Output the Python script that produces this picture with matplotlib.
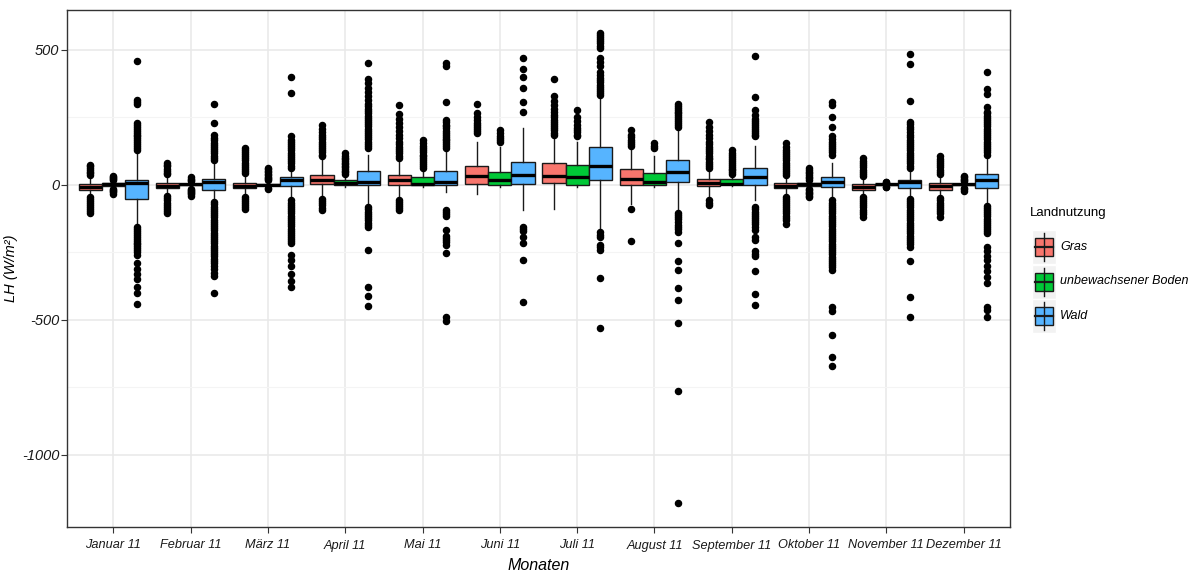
import numpy as np
import matplotlib.pyplot as plt
from matplotlib.patches import Rectangle

plt.rcParams['font.family'] = ['Liberation Sans', 'DejaVu Sans']

months = ['Januar 11', 'Februar 11', 'März 11', 'April 11', 'Mai 11', 'Juni 11',
          'Juli 11', 'August 11', 'September 11', 'Oktober 11', 'November 11', 'Dezember 11']
groups = ['Gras', 'unbewachsener Boden', 'Wald']
colors = ['#F8766D', '#00C837', '#56B4FF']

# box statistics per land use (W/m²)
gras_q1 = [-18, -12, -12, 2, 0, 2, 5, 0, -6, -12, -18, -18]
gras_med = [-8, -3, -4, 17, 17, 32, 32, 21, 5, -4, -8, -4]
gras_q3 = [2, 6, 6, 35, 35, 69, 81, 57, 21, 6, 1, 6]
gras_lo = [-40, -36, -38, -45, -50, -36, -89, -70, -46, -38, -40, -45]
gras_hi = [30, 33, 35, 95, 95, 160, 179, 130, 55, 30, 28, 35]
gras_out = [
    [35, 42, 48, 55, 62, 68, 75, -45, -52, -60, -68, -75, -82, -90, -97, -105],
    [38, 45, 52, 60, 68, 75, 82, -42, -50, -58, -66, -74, -82, -90, -98, -105],
    [42, 50, 58, 66, 74, 82, 90, 98, 106, 114, 122, 130, 136, -45, -52, -60, -68, -75, -82, -89],
    [105, 112, 120, 128, 136, 144, 152, 160, 168, 176, 185, 195, 208, 221, -52, -60, -68, -76, -85, -95],
    [100, 108, 116, 124, 132, 140, 150, 160, 172, 185, 198, 212, 228, 245, 262, 294,
     -55, -62, -70, -78, -86, -95],
    [191, 198, 206, 214, 222, 230, 240, 250, 264, 300],
    [185, 193, 201, 209, 217, 225, 233, 241, 250, 260, 270, 282, 295, 310, 330, 392],
    [142, 150, 158, 166, 175, 185, 203, -90, -210],
    [62, 70, 78, 86, 94, 100, 108, 116, 124, 132, 140, 150, 160, 172, 185, 200, 215, 233, -58, -66, -75],
    [35, 42, 50, 58, 66, 74, 82, 90, 98, 106, 114, 122, 130, 140, 154,
     -45, -52, -60, -66, -74, -82, -90, -98, -106, -114, -122, -130, -144],
    [33, 40, 48, 56, 64, 72, 80, 88, 100, -45, -52, -60, -68, -76, -84, -92, -100, -110, -119],
    [40, 48, 56, 64, 72, 80, 88, 96, 106, -50, -58, -66, -74, -82, -90, -98, -106, -119],
]

boden_q1 = [-3, -2, -2, 0, 0, -1, -1, -1, 2, -3, -2, -2]
boden_med = [1, 1, 0, 6, 4, 18, 27, 11, 4, 1, 1, 1]
boden_q3 = [5, 4, 4, 18, 29, 49, 73, 45, 21, 5, 4, 4]
boden_lo = [-12, -10, -10, -10, -10, -10, -10, -10, -5, -12, -6, -8]
boden_hi = [14, 12, 12, 35, 58, 140, 160, 105, 35, 14, 8, 10]
boden_out = [
    [18, 22, 26, 30, 33, -16, -20, -24, -28, -34],
    [15, 19, 23, 27, -14, -18, -22, -26, -30, -35, -40],
    [16, 20, 25, 30, 35, 40, 46, 52, 58, 63, -13, -16],
    [40, 46, 52, 58, 64, 70, 76, 82, 88, 94, 100, 108, 118],
    [63, 70, 77, 84, 91, 98, 105, 112, 120, 128, 136, 145, 155, 167],
    [160, 166, 174, 182, 190, 203],
    [179, 186, 194, 202, 210, 220, 235, 250, 276],
    [136, 145, 154],
    [39, 46, 53, 60, 67, 74, 81, 88, 95, 102, 110, 118, 130],
    [18, 24, 30, 36, 42, 48, 55, 63, -16, -20, -25, -30, -36, -41, -46],
    [10, 12, -8, -10],
    [13, 18, 23, 28, 33, -12, -17, -22],
]

wald_q1 = [-52, -18, -6, 0, 0, 4, 17, 11, -1, -7, -12, -12]
wald_med = [8, 9, 17, 9, 12, 36, 71, 47, 29, 12, 11, 19]
wald_q3 = [18, 23, 30, 51, 51, 85, 141, 91, 63, 30, 18, 39]
wald_lo = [-143, -60, -55, -70, -28, -92, -168, -101, -58, -50, -50, -70]
wald_hi = [120, 84, 60, 112, 120, 209, 325, 209, 142, 80, 60, 112]
wald_out = [
    [130, 137, 144, 151, 158, 165, 172, 179, 186, 193, 200, 207, 214, 221, 230, 300, 306, 312, 460,
     -158, -165, -172, -179, -186, -193, -200, -207, -214, -221, -228, -235, -242, -250, -260,
     -290, -310, -330, -350, -380, -400, -440],
    [92, 100, 108, 116, 124, 132, 140, 148, 156, 164, 172, 185, 230, 300,
     -65, -73, -81, -89, -97, -105, -113, -121, -129, -137, -145, -153, -161, -169, -177, -185,
     -193, -201, -209, -217, -225, -233, -241, -249, -257, -265, -273, -281, -290, -300, -312,
     -325, -338, -400],
    [63, 71, 79, 87, 95, 103, 111, 119, 127, 135, 143, 151, 159, 167, 179, 340, 400,
     -58, -66, -74, -82, -90, -98, -106, -114, -122, -130, -138, -146, -154, -162, -170, -178,
     -186, -194, -202, -210, -216, -260, -280, -300, -330, -355, -380],
    [136, 144, 152, 160, 168, 176, 184, 192, 200, 208, 216, 224, 232, 240, 248, 256, 264, 272,
     280, 290, 300, 315, 330, 345, 360, 375, 392, 450,
     -83, -91, -99, -107, -115, -123, -131, -140, -148, -156, -240, -380, -410, -450],
    [136, 143, 150, 157, 164, 171, 178, 185, 192, 199, 209, 216, 223, 232, 240, 306, 440, 452,
     -95, -102, -109, -115, -168, -190, -198, -205, -212, -222, -253, -490, -505],
    [270, 306, 358, 398, 428, 471, -156, -163, -170, -192, -217, -277, -434],
    [331, 339, 347, 355, 363, 371, 379, 387, 395, 405, 418, 440, 453, 470, 507, 515, 523, 531,
     539, 547, 555, 562, -175, -185, -195, -222, -230, -241, -344, -530],
    [215, 222, 229, 236, 243, 250, 257, 264, 271, 278, 285, 292, 300,
     -105, -112, -119, -128, -137, -150, -156, -165, -174, -216, -283, -314, -382, -425, -510,
     -763, -1180],
    [179, 186, 193, 200, 207, 214, 221, 228, 235, 245, 258, 276, 325, 477,
     -83, -91, -99, -107, -115, -123, -131, -139, -147, -155, -168, -192, -204, -247, -256,
     -265, -320, -404, -445],
    [112, 120, 128, 136, 144, 152, 160, 168, 179, 212, 252, 294, 306,
     -58, -66, -74, -82, -90, -98, -106, -114, -122, -130, -138, -146, -154, -162, -170, -178,
     -186, -194, -202, -210, -218, -226, -234, -242, -250, -258, -266, -274, -282, -290, -298,
     -306, -314, -451, -469, -555, -636, -672],
    [63, 71, 79, 87, 95, 103, 111, 119, 127, 135, 143, 151, 159, 167, 175, 185, 195, 205, 215,
     225, 233, 309, 446, 483,
     -52, -60, -68, -76, -84, -92, -100, -108, -116, -124, -132, -140, -148, -156, -164, -172,
     -180, -188, -196, -204, -212, -220, -229, -283, -415, -489],
    [112, 120, 128, 136, 144, 152, 160, 168, 176, 184, 192, 200, 208, 216, 224, 232, 240, 248,
     256, 264, 270, 288, 337, 355, 416,
     -77, -85, -93, -101, -109, -117, -125, -133, -141, -149, -157, -165, -172, -180, -229,
     -245, -262, -280, -300, -320, -340, -363, -454, -463, -490],
]

series = [
    (gras_q1, gras_med, gras_q3, gras_lo, gras_hi, gras_out),
    (boden_q1, boden_med, boden_q3, boden_lo, boden_hi, boden_out),
    (wald_q1, wald_med, wald_q3, wald_lo, wald_hi, wald_out),
]

fig = plt.figure(figsize=(11.95, 5.79), dpi=100)
ax = fig.add_axes([67 / 1195, 52 / 579, 943 / 1195, 517 / 579])

x = np.arange(1, len(months) + 1)
offsets = [-0.3, 0.0, 0.3]
for (q1, med, q3, lo, hi, out), off, col in zip(series, offsets, colors):
    stats = []
    for i in range(len(months)):
        stats.append(dict(q1=q1[i], med=med[i], q3=q3[i], whislo=lo[i], whishi=hi[i],
                          fliers=out[i]))
    ax.bxp(stats, positions=x + off, widths=0.3, patch_artist=True, showcaps=False,
           boxprops=dict(facecolor=col, edgecolor='#1a1a1a', linewidth=1.0),
           medianprops=dict(color='black', linewidth=2.4, solid_capstyle='butt'),
           whiskerprops=dict(color='#1a1a1a', linewidth=1.0),
           flierprops=dict(marker='o', markerfacecolor='black', markeredgecolor='black',
                           markersize=4.4, linestyle='none'),
           manage_ticks=False, zorder=3)

ax.set_xlim(0.4, 12.6)
ax.set_ylim(-1267, 647)
ax.set_xticks(x)
ax.set_xticklabels(months, fontstyle='italic', fontsize=9.2, color='#1a1a1a')
ax.set_yticks([-1000, -500, 0, 500])
ax.set_yticklabels(['-1000', '-500', '0', '500'], fontstyle='italic', fontsize=10.5,
                   color='#1a1a1a')
ax.set_yticks([-750, -250, 250], minor=True)
ax.grid(True, which='major', color='#e8e8e8', linewidth=1.1, zorder=0)
ax.grid(True, which='minor', axis='y', color='#f4f4f4', linewidth=0.8, zorder=0)
ax.set_axisbelow(True)
ax.tick_params(axis='both', which='major', length=4, width=0.8, color='#333333')
ax.tick_params(axis='x', which='major', pad=5)
ax.tick_params(axis='y', which='major', pad=1.5)
ax.tick_params(axis='y', which='minor', length=0)
for s in ax.spines.values():
    s.set_color('#333333')
    s.set_linewidth(1.0)

ax.set_xlabel('Monaten', fontstyle='italic', fontsize=11.5, labelpad=5)
ax.set_ylabel('LH (W/m²)', fontstyle='italic', fontsize=10.5)
ax.yaxis.set_label_coords(-0.052, 0.5)

# legend drawn in pixel coordinates
lg = fig.add_axes([0, 0, 1, 1], zorder=5)
lg.set_xlim(0, 1195)
lg.set_ylim(579, 0)
lg.axis('off')
lg.text(1030, 213, 'Landnutzung', fontsize=9.5, va='center', ha='left')
for k, (name, col) in enumerate(zip(groups, colors)):
    top = 230 + k * 34.5
    lg.add_patch(Rectangle((1032, top), 24, 34, facecolor='#f2f2f2', edgecolor='white',
                           linewidth=1.0))
    mid = top + 17
    lg.plot([1044, 1044], [top + 3, top + 31], color='#1a1a1a', lw=1.0)
    lg.add_patch(Rectangle((1035, mid - 9), 18, 18, facecolor=col, edgecolor='#1a1a1a',
                           linewidth=1.0))
    lg.plot([1035, 1053], [mid, mid], color='#1a1a1a', lw=1.6)
    lg.text(1060, mid, name, fontsize=9, fontstyle='italic', va='center', ha='left')

fig.savefig('out.png', dpi=100)
